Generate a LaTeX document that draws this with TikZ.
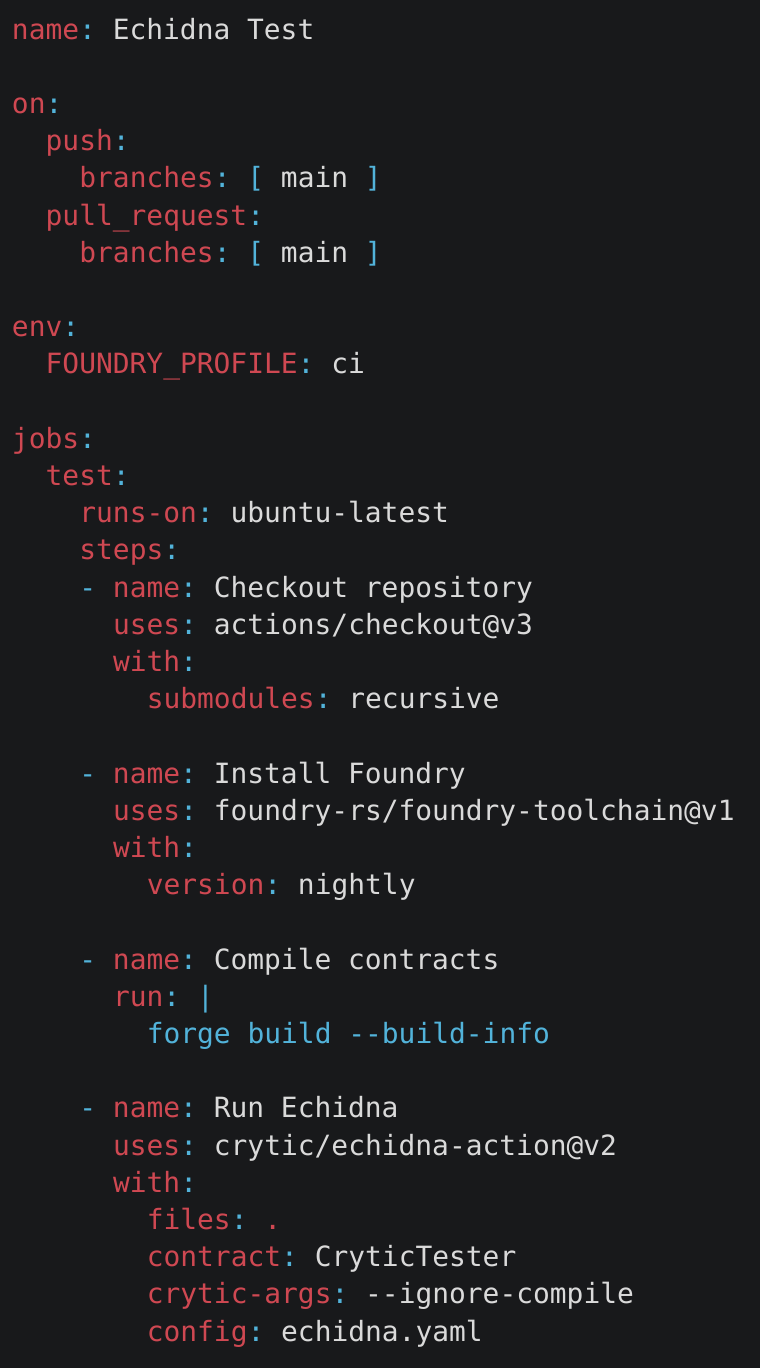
\documentclass[tikz,border=0pt]{standalone}
\usepackage{fontspec}
\setmonofont{DejaVu Sans Mono}
\usepackage{tikz}

\definecolor{bgdark}{HTML}{18191B}
\definecolor{keyred}{HTML}{CF4852}
\definecolor{punblue}{HTML}{52B3DA}
\definecolor{valwhite}{HTML}{DADADA}

\newcommand{\ky}[1]{\textcolor{keyred}{#1}}
\newcommand{\pu}[1]{\textcolor{punblue}{#1}}
\newcommand{\vl}[1]{\textcolor{valwhite}{#1}}

\tikzset{
  codeline/.style={anchor=base west, inner sep=0pt, outer sep=0pt,
    font=\ttfamily\fontsize{27.9}{30}\selectfont, text=valwhite}
}

% line i at indent k (characters)
\newcommand{\codeat}[2]{({12+16.85*#2},{-(39+37.2*#1)})}

\begin{document}
\begin{tikzpicture}[x=1pt,y=1pt]
  \fill[bgdark] (0,0) rectangle (760,-1368);
  \useasboundingbox (0,0) rectangle (760,-1368);

  \node[codeline] (lname) at \codeat{0}{0} {\ky{name}\pu{:} \vl{Echidna Test}};

  \node[codeline] (lon) at \codeat{2}{0} {\ky{on}\pu{:}};
  \node[codeline] (lpush) at \codeat{3}{2} {\ky{push}\pu{:}};
  \node[codeline] (lbrpush) at \codeat{4}{4} {\ky{branches}\pu{:} \pu{[} \vl{main} \pu{]}};
  \node[codeline] (lpull) at \codeat{5}{2} {\ky{pull\_request}\pu{:}};
  \node[codeline] (lbrpull) at \codeat{6}{4} {\ky{branches}\pu{:} \pu{[} \vl{main} \pu{]}};

  \node[codeline] (lenv) at \codeat{8}{0} {\ky{env}\pu{:}};
  \node[codeline] (lprofile) at \codeat{9}{2} {\ky{FOUNDRY\_PROFILE}\pu{:} \vl{ci}};

  \node[codeline] (ljobs) at \codeat{11}{0} {\ky{jobs}\pu{:}};
  \node[codeline] (ltest) at \codeat{12}{2} {\ky{test}\pu{:}};
  \node[codeline] (lruns) at \codeat{13}{4} {\ky{runs-on}\pu{:} \vl{ubuntu-latest}};
  \node[codeline] (lsteps) at \codeat{14}{4} {\ky{steps}\pu{:}};

  \node[codeline] (lcheckout) at \codeat{15}{4} {\pu{-} \ky{name}\pu{:} \vl{Checkout repository}};
  \node[codeline] (lcouses) at \codeat{16}{6} {\ky{uses}\pu{:} \vl{actions/checkout@v3}};
  \node[codeline] (lcowith) at \codeat{17}{6} {\ky{with}\pu{:}};
  \node[codeline] (lsubmod) at \codeat{18}{8} {\ky{submodules}\pu{:} \vl{recursive}};

  \node[codeline] (lfoundry) at \codeat{20}{4} {\pu{-} \ky{name}\pu{:} \vl{Install Foundry}};
  \node[codeline] (lfduses) at \codeat{21}{6} {\ky{uses}\pu{:} \vl{foundry-rs/foundry-toolchain@v1}};
  \node[codeline] (lfdwith) at \codeat{22}{6} {\ky{with}\pu{:}};
  \node[codeline] (lversion) at \codeat{23}{8} {\ky{version}\pu{:} \vl{nightly}};

  \node[codeline] (lcompile) at \codeat{25}{4} {\pu{-} \ky{name}\pu{:} \vl{Compile contracts}};
  \node[codeline] (lrun) at \codeat{26}{6} {\ky{run}\pu{:} \pu{|}};
  \node[codeline] (lforge) at \codeat{27}{8} {\pu{forge build --build-info}};

  \node[codeline] (lechidna) at \codeat{29}{4} {\pu{-} \ky{name}\pu{:} \vl{Run Echidna}};
  \node[codeline] (lecuses) at \codeat{30}{6} {\ky{uses}\pu{:} \vl{crytic/echidna-action@v2}};
  \node[codeline] (lecwith) at \codeat{31}{6} {\ky{with}\pu{:}};
  \node[codeline] (lfiles) at \codeat{32}{8} {\ky{files}\pu{:} \ky{.}};
  \node[codeline] (lcontract) at \codeat{33}{8} {\ky{contract}\pu{:} \vl{CryticTester}};
  \node[codeline] (lcargs) at \codeat{34}{8} {\ky{crytic-args}\pu{:} \vl{--ignore-compile}};
  \node[codeline] (lconfig) at \codeat{35}{8} {\ky{config}\pu{:} \vl{echidna.yaml}};
\end{tikzpicture}
\end{document}
